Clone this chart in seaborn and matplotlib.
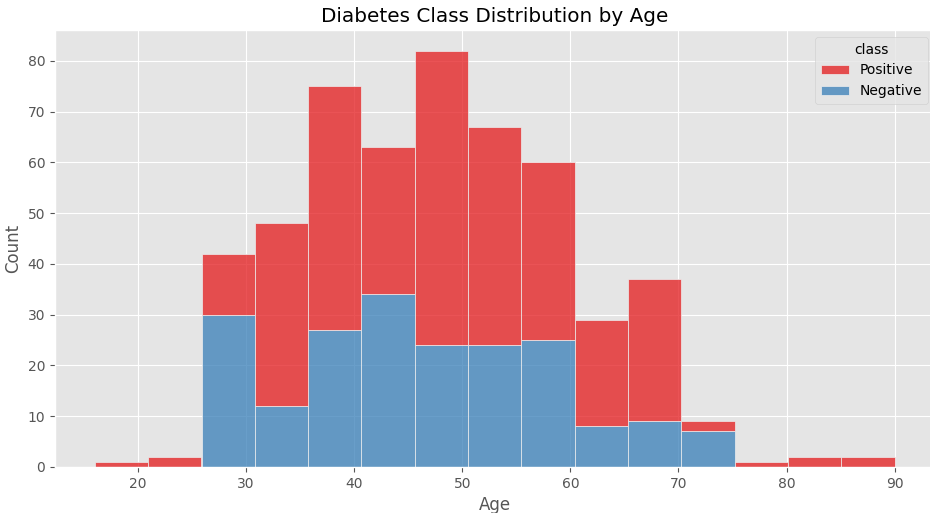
import numpy as np
import pandas as pd
import matplotlib
matplotlib.use("Agg")
import matplotlib.pyplot as plt
import seaborn as sns

# histogram: 15 bins between age 16 and 90
age_min, age_max, n_bins = 16, 90, 15
positive_counts = [1, 2, 12, 36, 48, 29, 58, 43, 35, 21, 28, 2, 1, 2, 2]
negative_counts = [0, 0, 30, 12, 27, 34, 24, 24, 25, 8, 9, 7, 0, 0, 0]
classes = ["Positive", "Negative"]

edges = np.linspace(age_min, age_max, n_bins + 1)
centers = (edges[:-1] + edges[1:]) / 2

df = pd.DataFrame({
    "Age": np.concatenate([centers, centers]),
    "n": positive_counts + negative_counts,
    "class": ["Positive"] * n_bins + ["Negative"] * n_bins,
})

plt.style.use("ggplot")
fig, ax = plt.subplots(figsize=(9.3, 5.13), dpi=100)
sns.histplot(data=df, x="Age", weights="n", hue="class", hue_order=classes,
             bins=n_bins, binrange=(age_min, age_max), multiple="stack",
             palette="Set1", ax=ax)
ax.set_title("Diabetes Class Distribution by Age")
ax.set_ylabel("Count")
fig.subplots_adjust(left=0.059, right=1.005, top=0.9415, bottom=0.09)
fig.savefig("out.png", dpi=100)
